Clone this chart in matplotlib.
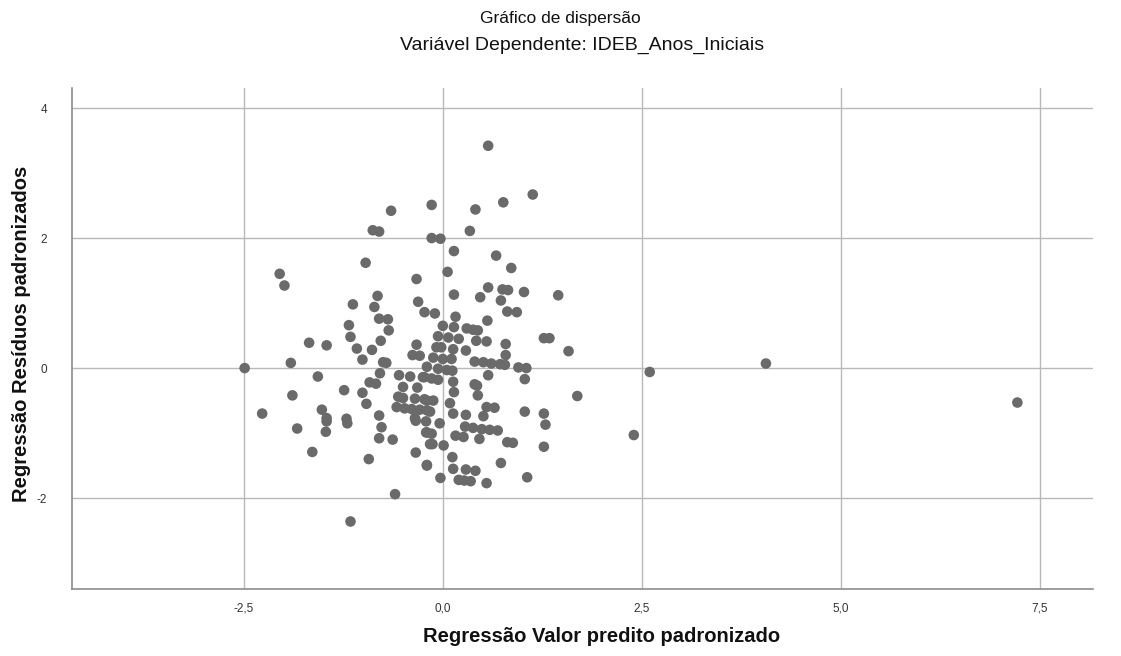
import matplotlib
matplotlib.use("Agg")
import matplotlib.pyplot as plt

plt.rcParams["font.family"] = ["Liberation Sans", "DejaVu Sans"]

# valores (valor predito padronizado, resíduo padronizado)
valor_predito = [
    -0.65, -0.88, -0.80, -0.14, -0.14, -0.03, -0.97, -2.05, -0.33,
    0.57, 1.13, 0.76, 0.41, 0.34, 0.14, 0.67, 0.86, 0.06,
    -1.99, -0.82, -1.13, -0.86, -0.31, -0.23, -0.80, -0.69, -1.18, -0.68,
    -1.16, -0.78, -1.68, -1.46, -1.08, -0.89, -0.33, -0.38, -0.29, -1.01,
    -0.75, -0.71, -0.20, -1.91, -2.49, -0.79, -0.55, -0.41, -0.23, -1.57,
    -0.92, -0.84, -0.50, -0.32, -1.24, -1.01, -1.89, -0.56, -0.50, -0.35,
    -0.20, -0.96, -0.58, -0.48, -0.39, -0.29, -0.20, -1.52, -2.27, -0.80,
    -1.46, -1.21, -0.35,
    -1.46, -1.83, -1.47, -1.20, -0.77, -0.80, -0.63, -0.34, -0.21, -0.20,
    -0.16, -0.34, -0.20, -1.64, -0.93, -0.60, -1.16,
    0.57, 0.75, 0.82, 1.02, 0.14, 0.47, 0.73, 1.45, 0.81, 0.93, -0.10,
    0.16, 0.56, 0.00, 0.14, 0.30, 0.38, 0.44, -0.06, 0.07, 0.20, 0.42,
    0.55, 0.79, 1.27, 1.34, 1.58, -0.08, -0.02, 0.13, 0.29, 0.79, -0.12,
    0.00, 0.11, 0.40, 0.51, 0.61, 0.72, 0.78, 0.95, 1.05, -0.06, 0.05,
    0.12, 0.57, 1.03, -0.25, -0.14, -0.06, 0.13, 0.40, 0.43, 0.14, 0.44,
    1.69, -0.23, -0.12, 0.09, 0.55, 0.65, -0.16, 0.13, 0.29, 0.51, 1.03,
    1.27,
    1.29, -0.04, 0.28, 0.38, 0.49, 0.59, 0.69, -0.21, -0.14, 0.16, 0.26,
    0.46, 0.81, 0.88, -0.13, 0.01, 1.27, 0.12, 0.73, -0.20, 0.13, 0.29,
    0.41, -0.03, 0.20, 0.27, 0.35, 0.55, 1.06,
    2.60, 4.06, 2.40, 7.22,
]
residuo_padronizado = [
    2.42, 2.12, 2.10, 2.51, 2.00, 1.99, 1.62, 1.45, 1.37,
    3.42, 2.67, 2.55, 2.44, 2.11, 1.80, 1.73, 1.54, 1.48,
    1.27, 1.11, 0.98, 0.94, 1.02, 0.86, 0.76, 0.75, 0.66, 0.58,
    0.48, 0.42, 0.39, 0.35, 0.30, 0.28, 0.36, 0.20, 0.19, 0.13,
    0.09, 0.08, 0.02, 0.08, 0.00, -0.08, -0.11, -0.13, -0.14, -0.13,
    -0.22, -0.24, -0.29, -0.30, -0.34, -0.38, -0.42, -0.44, -0.46, -0.47,
    -0.50, -0.55, -0.60, -0.62, -0.63, -0.64, -0.65, -0.64, -0.70, -0.73,
    -0.77, -0.78, -0.77,
    -0.82, -0.93, -0.98, -0.85, -0.91, -1.08, -1.10, -0.81, -0.82, -0.99,
    -1.17, -1.30, -1.49, -1.29, -1.40, -1.94, -2.36,
    1.24, 1.21, 1.20, 1.17, 1.13, 1.09, 1.04, 1.12, 0.87, 0.86, 0.84,
    0.79, 0.73, 0.65, 0.63, 0.61, 0.59, 0.58, 0.49, 0.47, 0.45, 0.42,
    0.41, 0.37, 0.46, 0.46, 0.26, 0.32, 0.32, 0.29, 0.27, 0.20, 0.16,
    0.14, 0.14, 0.10, 0.09, 0.07, 0.06, 0.05, 0.01, 0.00, -0.01, -0.03,
    -0.04, -0.11, -0.17, -0.14, -0.16, -0.18, -0.21, -0.25, -0.27, -0.37, -0.42,
    -0.43, -0.48, -0.50, -0.54, -0.60, -0.61, -0.67, -0.70, -0.72, -0.74, -0.67,
    -0.70,
    -0.87, -0.85, -0.90, -0.92, -0.94, -0.95, -0.96, -0.99, -1.01, -1.04, -1.06,
    -1.09, -1.14, -1.15, -1.17, -1.19, -1.21, -1.37, -1.46, -1.50, -1.55, -1.56,
    -1.58, -1.69, -1.72, -1.73, -1.74, -1.77, -1.68,
    -0.06, 0.07, -1.03, -0.53,
]

x_ticks = [-2.5, 0.0, 2.5, 5.0, 7.5]
x_tick_labels = ["-2,5", "0,0", "2,5", "5,0", "7,5"]
y_ticks = [-2, 0, 2, 4]
y_tick_labels = ["-2", "0", "2", "4"]

fig = plt.figure(figsize=(11.21, 6.56), dpi=100)
ax = fig.add_axes([0.0642, 0.102, 0.9108, 0.764])

ax.scatter(valor_predito, residuo_padronizado, s=58, color="#6a6a6a",
           edgecolors="none", zorder=3)

ax.set_xlim(-4.66, 8.17)
ax.set_ylim(-3.40, 4.31)
ax.set_xticks(x_ticks)
ax.set_xticklabels(x_tick_labels)
ax.set_yticks(y_ticks)
ax.set_yticklabels(y_tick_labels)
ax.tick_params(axis="both", length=0, labelsize=8.5, colors="#333333")
ax.tick_params(axis="x", pad=10)
ax.tick_params(axis="y", pad=18)

ax.grid(True, color="#b8b8b8", linewidth=1.0, zorder=0)
ax.set_axisbelow(True)
for lado in ["top", "right"]:
    ax.spines[lado].set_visible(False)
for lado in ["left", "bottom"]:
    ax.spines[lado].set_color("#8c8c8c")
    ax.spines[lado].set_linewidth(1.2)

# rótulos dos eixos posicionados na figura
fig.text(0.537, 0.030, "Regressão Valor predito padronizado", ha="center",
         va="center", fontsize=14.5, fontweight="bold", color="#111111")
fig.text(0.019, 0.491, "Regressão Resíduos padronizados", ha="center",
         va="center", rotation=90, fontsize=14.5, fontweight="bold",
         color="#111111")

fig.text(0.50, 0.972, "Gráfico de dispersão", ha="center", va="center",
         fontsize=12.5, color="#111111")
fig.text(0.519, 0.931, "Variável Dependente: IDEB_Anos_Iniciais", ha="center",
         va="center", fontsize=14, color="#111111")

fig.savefig("out.png", dpi=100)
